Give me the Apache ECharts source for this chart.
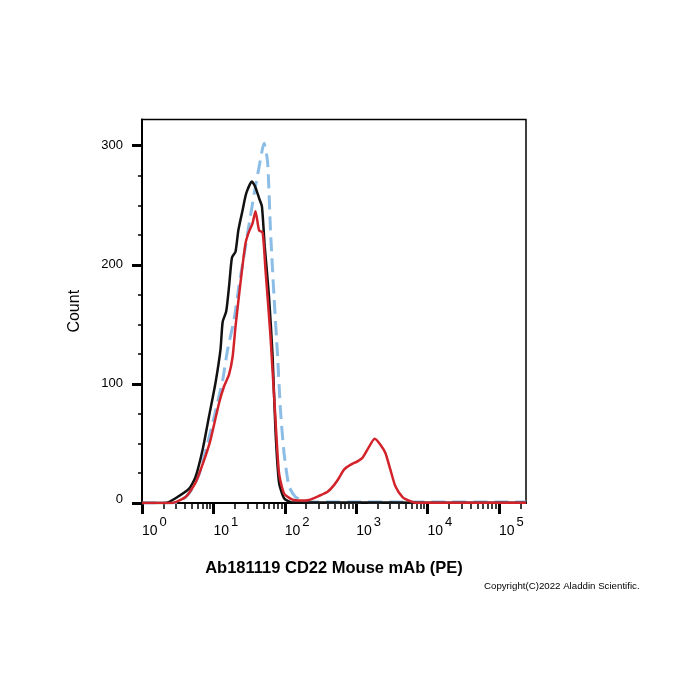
<!DOCTYPE html>
<html>
<head>
<meta charset="utf-8">
<script src="https://cdn.jsdelivr.net/npm/echarts@6/dist/echarts.min.js"></script>
<style>
  html, body { margin: 0; padding: 0; background: #fff; }
  #chart { width: 700px; height: 700px; }
</style>
</head>
<body>
<div id="chart"></div>
<script>
  // x values are in decades (log10 of fluorescence), y values are counts
  var blackX = [0, 0.33, 0.47, 0.66, 0.75, 0.85, 0.94, 1.03, 1.10, 1.13, 1.18, 1.22, 1.26, 1.31, 1.35, 1.41, 1.46, 1.54, 1.59, 1.64, 1.68, 1.72, 1.78, 1.83, 1.87, 1.92, 1.99, 2.10, 3.0, 4.0, 5.38];
  var blackY = [0, 0, 4, 12, 22, 45, 73, 101, 129, 152, 161, 182, 206, 211, 229, 246, 260, 270, 265, 256, 249, 215, 173, 123, 61, 17, 4, 0.5, 0.5, 0.3, 0.3];

  var redX = [0, 0.42, 0.61, 0.75, 0.87, 0.96, 1.08, 1.15, 1.22, 1.27, 1.31, 1.38, 1.45, 1.50, 1.55, 1.59, 1.64, 1.69, 1.73, 1.80, 1.87, 1.92, 1.99, 2.10, 2.20, 2.34, 2.48, 2.60, 2.69, 2.76, 2.83, 2.92, 3.02, 3.09, 3.16, 3.26, 3.34, 3.41, 3.48, 3.55, 3.65, 3.74, 3.83, 5.38];
  var redY = [0, 0, 5, 17, 36, 53, 84, 98, 108, 123, 148, 185, 218, 228, 235, 245, 229, 227, 196, 140, 70, 25, 8, 3, 2, 2.5, 6, 9.5, 15, 21, 28, 32, 35, 38, 45, 54, 49, 42, 28, 14, 5, 2, 0.3, 0.3];

  var blueX = [0, 0.38, 0.52, 0.66, 0.80, 0.91, 1.01, 1.08, 1.13, 1.20, 1.29, 1.36, 1.43, 1.50, 1.57, 1.64, 1.71, 1.76, 1.80, 1.85, 1.90, 1.94, 1.99, 2.06, 2.15, 2.25, 2.37, 5.38];
  var blueY = [0, 0, 1, 8, 24, 48, 72, 90, 103, 129, 154, 183, 208, 234, 259, 282, 302, 286, 229, 173, 123, 78, 42, 14, 5, 2.5, 0.8, 0.8];

  var xMajor = [0, 1, 2, 3, 4, 5];
  var xMinor = [];
  xMajor.forEach(function (d) {
    for (var k = 2; k <= 9; k++) {
      var v = d + Math.log10(k);
      if (v < 5.38) xMinor.push(v);
    }
  });
  var yMajor = [0, 100, 200, 300];
  var yMinor = [25, 50, 75, 125, 150, 175, 225, 250, 275];

  function pairs(xs, ys) {
    return xs.map(function (x, i) { return [x, ys[i]]; });
  }

  var font = 'Arial, "Liberation Sans", sans-serif';
  var myChart = echarts.init(document.getElementById('chart'));

  var option = {
    animation: false,
    textStyle: { fontFamily: font },
    title: {
      text: 'Copyright(C)2022 Aladdin Scientific.',
      left: 484,
      top: 581,
      padding: 0,
      textStyle: { fontSize: 9.7, fontWeight: 'normal', color: '#000', fontFamily: font }
    },
    grid: {
      left: 142, right: 174, top: 119.5, bottom: 197,
      show: true, borderColor: '#000', borderWidth: 1.5
    },
    xAxis: [{
      type: 'value', min: 0, max: 5.38, position: 'bottom',
      name: 'Ab181119 CD22 Mouse mAb (PE)',
      nameLocation: 'middle', nameGap: 57,
      nameTextStyle: { fontSize: 16.5, fontWeight: 'bold', color: '#000', fontFamily: font },
      axisLine: { show: true, lineStyle: { color: '#000', width: 2 } },
      axisTick: { show: true, customValues: xMajor, length: 11, lineStyle: { color: '#000', width: 3 } },
      axisLabel: {
        customValues: xMajor, align: 'left', margin: 12, color: '#000',
        formatter: function (v) { return '{b|10}{s|' + v + '}'; },
        rich: {
          b: { fontSize: 14, color: '#000', padding: [9, 0, 0, 0], fontFamily: font },
          s: { fontSize: 13, color: '#000', padding: [0, 0, 9, 2], fontFamily: font }
        }
      },
      splitLine: { show: false }
    }, {
      type: 'value', min: 0, max: 5.38, position: 'bottom',
      axisLine: { show: false },
      axisTick: { show: true, customValues: xMinor, length: 6, lineStyle: { color: '#000', width: 1.5 } },
      axisLabel: { show: false },
      splitLine: { show: false }
    }],
    yAxis: [{
      type: 'value', min: 0, max: 322, position: 'left',
      name: 'Count', nameLocation: 'middle', nameGap: 59,
      nameTextStyle: { fontSize: 16, color: '#000', fontFamily: font },
      axisLine: { show: true, lineStyle: { color: '#000', width: 2 } },
      axisTick: { show: true, customValues: yMajor, length: 10, lineStyle: { color: '#000', width: 3 } },
      axisLabel: {
        customValues: yMajor, margin: 19, fontSize: 13, color: '#000',
        formatter: function (v) { return v === 0 ? '{z|0}' : String(v); },
        rich: { z: { fontSize: 13, color: '#000', padding: [0, 0, 8, 0], fontFamily: font } }
      },
      splitLine: { show: false }
    }, {
      type: 'value', min: 0, max: 322, position: 'left',
      axisLine: { show: false },
      axisTick: { show: true, customValues: yMinor, length: 4, lineStyle: { color: '#000', width: 1.5 } },
      axisLabel: { show: false },
      splitLine: { show: false }
    }],
    series: [{
      name: 'isotype', type: 'line', showSymbol: false, smooth: 0.2,
      lineStyle: { color: '#8bbde6', width: 3, type: [14, 7] },
      data: pairs(blueX, blueY)
    }, {
      name: 'blank', type: 'line', showSymbol: false, smooth: 0.2,
      lineStyle: { color: '#111', width: 2.5 },
      data: pairs(blackX, blackY)
    }, {
      name: 'CD22', type: 'line', showSymbol: false, smooth: 0.2,
      lineStyle: { color: '#d2232a', width: 2.5 },
      data: pairs(redX, redY)
    }]
  };

  myChart.setOption(option);
</script>
</body>
</html>
